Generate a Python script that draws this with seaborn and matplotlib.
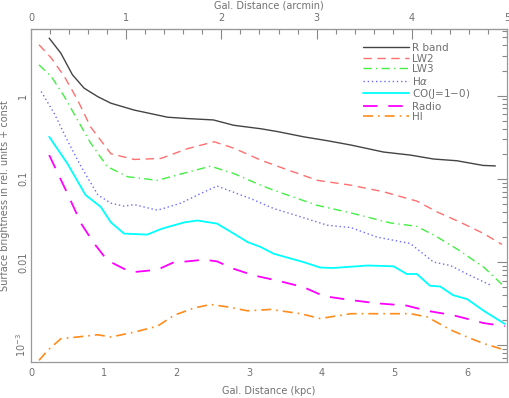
import numpy as np
import matplotlib
matplotlib.use("Agg")
import matplotlib.pyplot as plt
import matplotlib.ticker as mticker
import seaborn as sns

# -----------------------------
# DATA
# -----------------------------
r_x = [0.25, 0.41, 0.57, 0.73, 0.92, 1.10, 1.42, 1.88, 2.15, 2.51, 2.79, 3.16, 3.39,
       3.75, 4.08, 4.40, 4.85, 5.22, 5.54, 5.86, 6.22, 6.39]
r_y = [4.9, 3.24, 1.78, 1.23, 0.97, 0.81, 0.67, 0.55, 0.53, 0.51, 0.44, 0.40, 0.37,
       0.32, 0.287, 0.255, 0.21, 0.193, 0.173, 0.165, 0.145, 0.143]

lw2_x = [0.11, 0.28, 0.46, 0.64, 0.82, 1.10, 1.42, 1.79, 2.15, 2.52, 2.80, 3.16, 3.48,
         3.94, 4.40, 4.85, 5.31, 5.59, 5.91, 6.23, 6.48]
lw2_y = [4.08, 2.82, 1.69, 0.89, 0.42, 0.20, 0.171, 0.176, 0.23, 0.279, 0.232, 0.168, 0.133,
         0.096, 0.084, 0.07, 0.054, 0.040, 0.030, 0.022, 0.0163]

lw3_x = [0.11, 0.28, 0.46, 0.64, 0.82, 1.05, 1.33, 1.74, 2.01, 2.47, 2.79, 3.16, 3.34,
         3.94, 4.40, 4.95, 5.31, 5.59, 5.86, 6.23, 6.52]
lw3_y = [2.34, 1.69, 0.97, 0.51, 0.27, 0.14, 0.106, 0.096, 0.111, 0.142, 0.116, 0.084, 0.073,
         0.048, 0.039, 0.0295, 0.0269, 0.020, 0.0144, 0.0087, 0.005]

ha_x = [0.14, 0.32, 0.50, 0.69, 0.92, 1.10, 1.28, 1.42, 1.74, 2.06, 2.34, 2.56, 3.02,
        3.34, 3.71, 4.08, 4.40, 4.76, 5.22, 5.54, 5.77, 6.00, 6.34]
ha_y = [1.12, 0.61, 0.29, 0.14, 0.064, 0.051, 0.047, 0.049, 0.042, 0.051, 0.067, 0.082, 0.058,
        0.044, 0.035, 0.0277, 0.026, 0.020, 0.0167, 0.0100, 0.0091, 0.0072, 0.0052]

co_x = [0.25, 0.50, 0.75, 0.96, 1.10, 1.28, 1.60, 1.79, 1.92, 2.11, 2.29, 2.56, 2.79,
        2.98, 3.16, 3.34, 3.75, 3.98, 4.16, 4.63, 4.99, 5.17, 5.31, 5.49, 5.63, 5.81,
        6.00, 6.23, 6.52]
co_y = [0.32, 0.153, 0.064, 0.046, 0.030, 0.022, 0.0214, 0.025, 0.027, 0.030, 0.0316, 0.029, 0.022,
        0.0174, 0.0152, 0.0126, 0.0100, 0.0086, 0.0085, 0.0091, 0.0089, 0.0072, 0.0072, 0.0052,
        0.0051, 0.0040, 0.0036, 0.0026, 0.00181]

radio_x = [0.25, 0.50, 0.69, 0.87, 1.05, 1.28, 1.42, 1.74, 1.97, 2.15, 2.38, 2.56, 2.79,
           3.07, 3.39, 3.75, 4.03, 4.40, 4.76, 5.17, 5.45, 5.81, 6.23, 6.52]
radio_y = [0.193, 0.067, 0.029, 0.0167, 0.0105, 0.0083, 0.0076, 0.0081, 0.0100, 0.0102, 0.0107,
           0.0102, 0.0083, 0.0069, 0.0060, 0.0050, 0.0039, 0.0035, 0.0032, 0.0030, 0.0026,
           0.0023, 0.00185, 0.0017]

hi_x = [0.11, 0.23, 0.41, 0.64, 0.92, 1.10, 1.42, 1.74, 1.97, 2.24, 2.47, 2.70, 2.98,
        3.30, 3.71, 3.98, 4.40, 4.85, 5.22, 5.45, 5.77, 6.00, 6.23, 6.52]
hi_y = [0.00066, 0.00087, 0.0012, 0.00126, 0.00134, 0.00126, 0.00144, 0.0017, 0.0023, 0.0028,
        0.0031, 0.0029, 0.0026, 0.0027, 0.0024, 0.0021, 0.0024, 0.0024, 0.0024, 0.0022,
        0.00154, 0.00126, 0.00105, 0.00088]

labels = ["R band", "LW2", "LW3", r"H$\alpha$", "CO(J=1$-$0)", "Radio", "HI"]
xs = [r_x, lw2_x, lw3_x, ha_x, co_x, radio_x, hi_x]
ys = [r_y, lw2_y, lw3_y, ha_y, co_y, radio_y, hi_y]

# kpc per arcmin
KPC_PER_ARCMIN = 1.31

# -----------------------------
# STYLE
# -----------------------------
sns.set_style("white")
plt.rcParams["font.family"] = ["DejaVu Sans"]
TXT = "#707070"
FS = 7

colors = ["#444444", "#ff6f6f", "#44ee44", "#6a6aff", "#00ffff", "#ff00ff", "#ff8c1a"]
dashes = ["-", (0, (6, 4)), (0, (6, 3, 1, 3)), (0, (1, 2)), "-", (0, (8, 6)), (0, (6, 3, 1, 3))]
widths = [1.0, 1.0, 1.0, 1.0, 1.3, 1.3, 1.2]

W, H = 510, 398
fig = plt.figure(figsize=(W / 100, H / 100), dpi=100)
ax = fig.add_axes([31 / W, 36 / H, 476 / W, 333 / H])

for x, y, lab, c, ls, lw in zip(xs, ys, labels, colors, dashes, widths):
    sns.lineplot(x=x, y=y, ax=ax, color=c, linestyle=ls, linewidth=lw, label=lab)

ax.set_yscale("log")
ax.set_xlim(0, 5 * KPC_PER_ARCMIN)
ax.set_ylim(10 ** -3.2, 10 ** 0.8)


def yfmt(v, pos):
    if np.isclose(v, 1e-3):
        return r"10$^{-3}$"
    if np.isclose(v, 0.01):
        return "0.01"
    if np.isclose(v, 0.1):
        return "0.1"
    if np.isclose(v, 1):
        return "1"
    return ""


ax.yaxis.set_major_locator(mticker.FixedLocator([1e-3, 1e-2, 1e-1, 1]))
ax.yaxis.set_minor_locator(mticker.LogLocator(base=10, subs=np.arange(2, 10), numticks=20))
ax.yaxis.set_major_formatter(mticker.FuncFormatter(yfmt))
ax.yaxis.set_minor_formatter(mticker.NullFormatter())
ax.xaxis.set_major_locator(mticker.FixedLocator([0, 1, 2, 3, 4, 5, 6]))
ax.xaxis.set_minor_locator(mticker.MultipleLocator(0.2))

ax.tick_params(axis="both", which="both", direction="in", colors="#888888",
               labelcolor=TXT, labelsize=FS, right=True)
ax.tick_params(which="major", length=7, width=0.8)
ax.tick_params(which="minor", length=3.5, width=0.8)
ax.tick_params(axis="x", pad=4)
ax.tick_params(axis="y", pad=2)
for lbl in ax.get_yticklabels():
    lbl.set_rotation(90)
    lbl.set_va("center")

for sp in ax.spines.values():
    sp.set_color("#999999")
    sp.set_linewidth(0.9)

ax.set_ylabel("Surface brightness in rel. units + const", color=TXT, fontsize=FS, labelpad=3)

top = ax.secondary_xaxis("top", functions=(lambda k: k / KPC_PER_ARCMIN,
                                           lambda a: a * KPC_PER_ARCMIN))
top.xaxis.set_major_locator(mticker.FixedLocator([0, 1, 2, 3, 4, 5]))
top.xaxis.set_minor_locator(mticker.MultipleLocator(0.2))
top.tick_params(which="both", direction="in", colors="#888888", labelcolor=TXT, labelsize=FS)
top.tick_params(which="major", length=7, width=0.8, pad=4)
top.tick_params(which="minor", length=3.5, width=0.8)
top.spines["top"].set_color("#999999")

# axis titles placed in figure pixels, as in the reference
fig.text(269 / W, 1 - 6 / H, "Gal. Distance (arcmin)", color=TXT, fontsize=FS,
         ha="center", va="center")
fig.text(269 / W, 1 - 391 / H, "Gal. Distance (kpc)", color=TXT, fontsize=FS,
         ha="center", va="center")

leg = ax.legend(loc="upper left", bbox_to_anchor=((363 - 31) / 476, (362 - 43) / 333),
                frameon=False, borderpad=0, borderaxespad=0,
                handlelength=4.4, fontsize=FS + 0.5, labelspacing=0.05, handletextpad=0.35)
for t in leg.get_texts():
    t.set_color(TXT)

fig.savefig("out.png", dpi=100)
